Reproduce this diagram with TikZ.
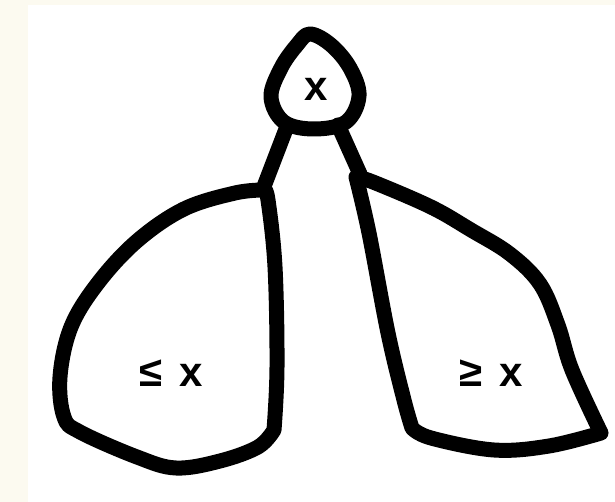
\documentclass[tikz,border=0pt]{standalone}
\usepackage{fontspec}
\setmainfont{Liberation Sans}
\definecolor{bgcream}{RGB}{252,250,240}
\begin{document}
\begin{tikzpicture}[x=1pt,y=-1pt,
  outline/.style={draw=black, line width=15pt, line join=round, line cap=round},
  lbl/.style={font=\bfseries\fontsize{42}{46}\selectfont, inner sep=0pt, text=black}]
\fill[bgcream] (0,0) rectangle (615,502);
\fill[white] (28,5) rectangle (615,502);
\useasboundingbox (0,0) rectangle (615,502);
% root
\draw[outline] plot[smooth cycle, tension=0.6] coordinates {(310,34) (331,45) (350,68) (359,96) (346,122) (314,129) (284,122) (271,97) (281,68) (297,45)};
% left subtree
\draw[outline] plot[smooth, tension=0.6] coordinates {(264,190) (235,193) (184,209) (137,241) (98,283) (71,327) (60,377) (64,417) (80,432) (137,457) (176,468) (220,461) (258,447) (274,430)}
  -- plot[smooth, tension=0.6] coordinates {(274,430) (277,367) (275,267) (268,200) (264,190)};
% right subtree
\draw[outline] plot[smooth, tension=0.6] coordinates {(356,177) (373,182) (431,207) (471,230) (510,254) (540,284) (558,325) (572,370) (601,433)}
  -- plot[smooth, tension=0.6] coordinates {(601,433) (549,446) (494,450) (431,438) (412,428)}
  -- plot[smooth, tension=0.6] coordinates {(412,428) (404,400) (388,333) (369,233) (356,177)};
% connectors
\coordinate (rootL) at (286,129);
\coordinate (leftTop) at (263,189);
\coordinate (rootR) at (338,125);
\coordinate (rightTop) at (360,174);
\draw[outline] (rootL) -- (leftTop);
\draw[outline] (rootR) -- (rightTop);
% labels
\node[lbl] (root) at (316,89) {x};
\node[lbl] (lt) at (171,373) {≤\hspace{0.4em}x};
\node[lbl] (rt) at (491,373) {≥\hspace{0.4em}x};
\end{tikzpicture}
\end{document}
